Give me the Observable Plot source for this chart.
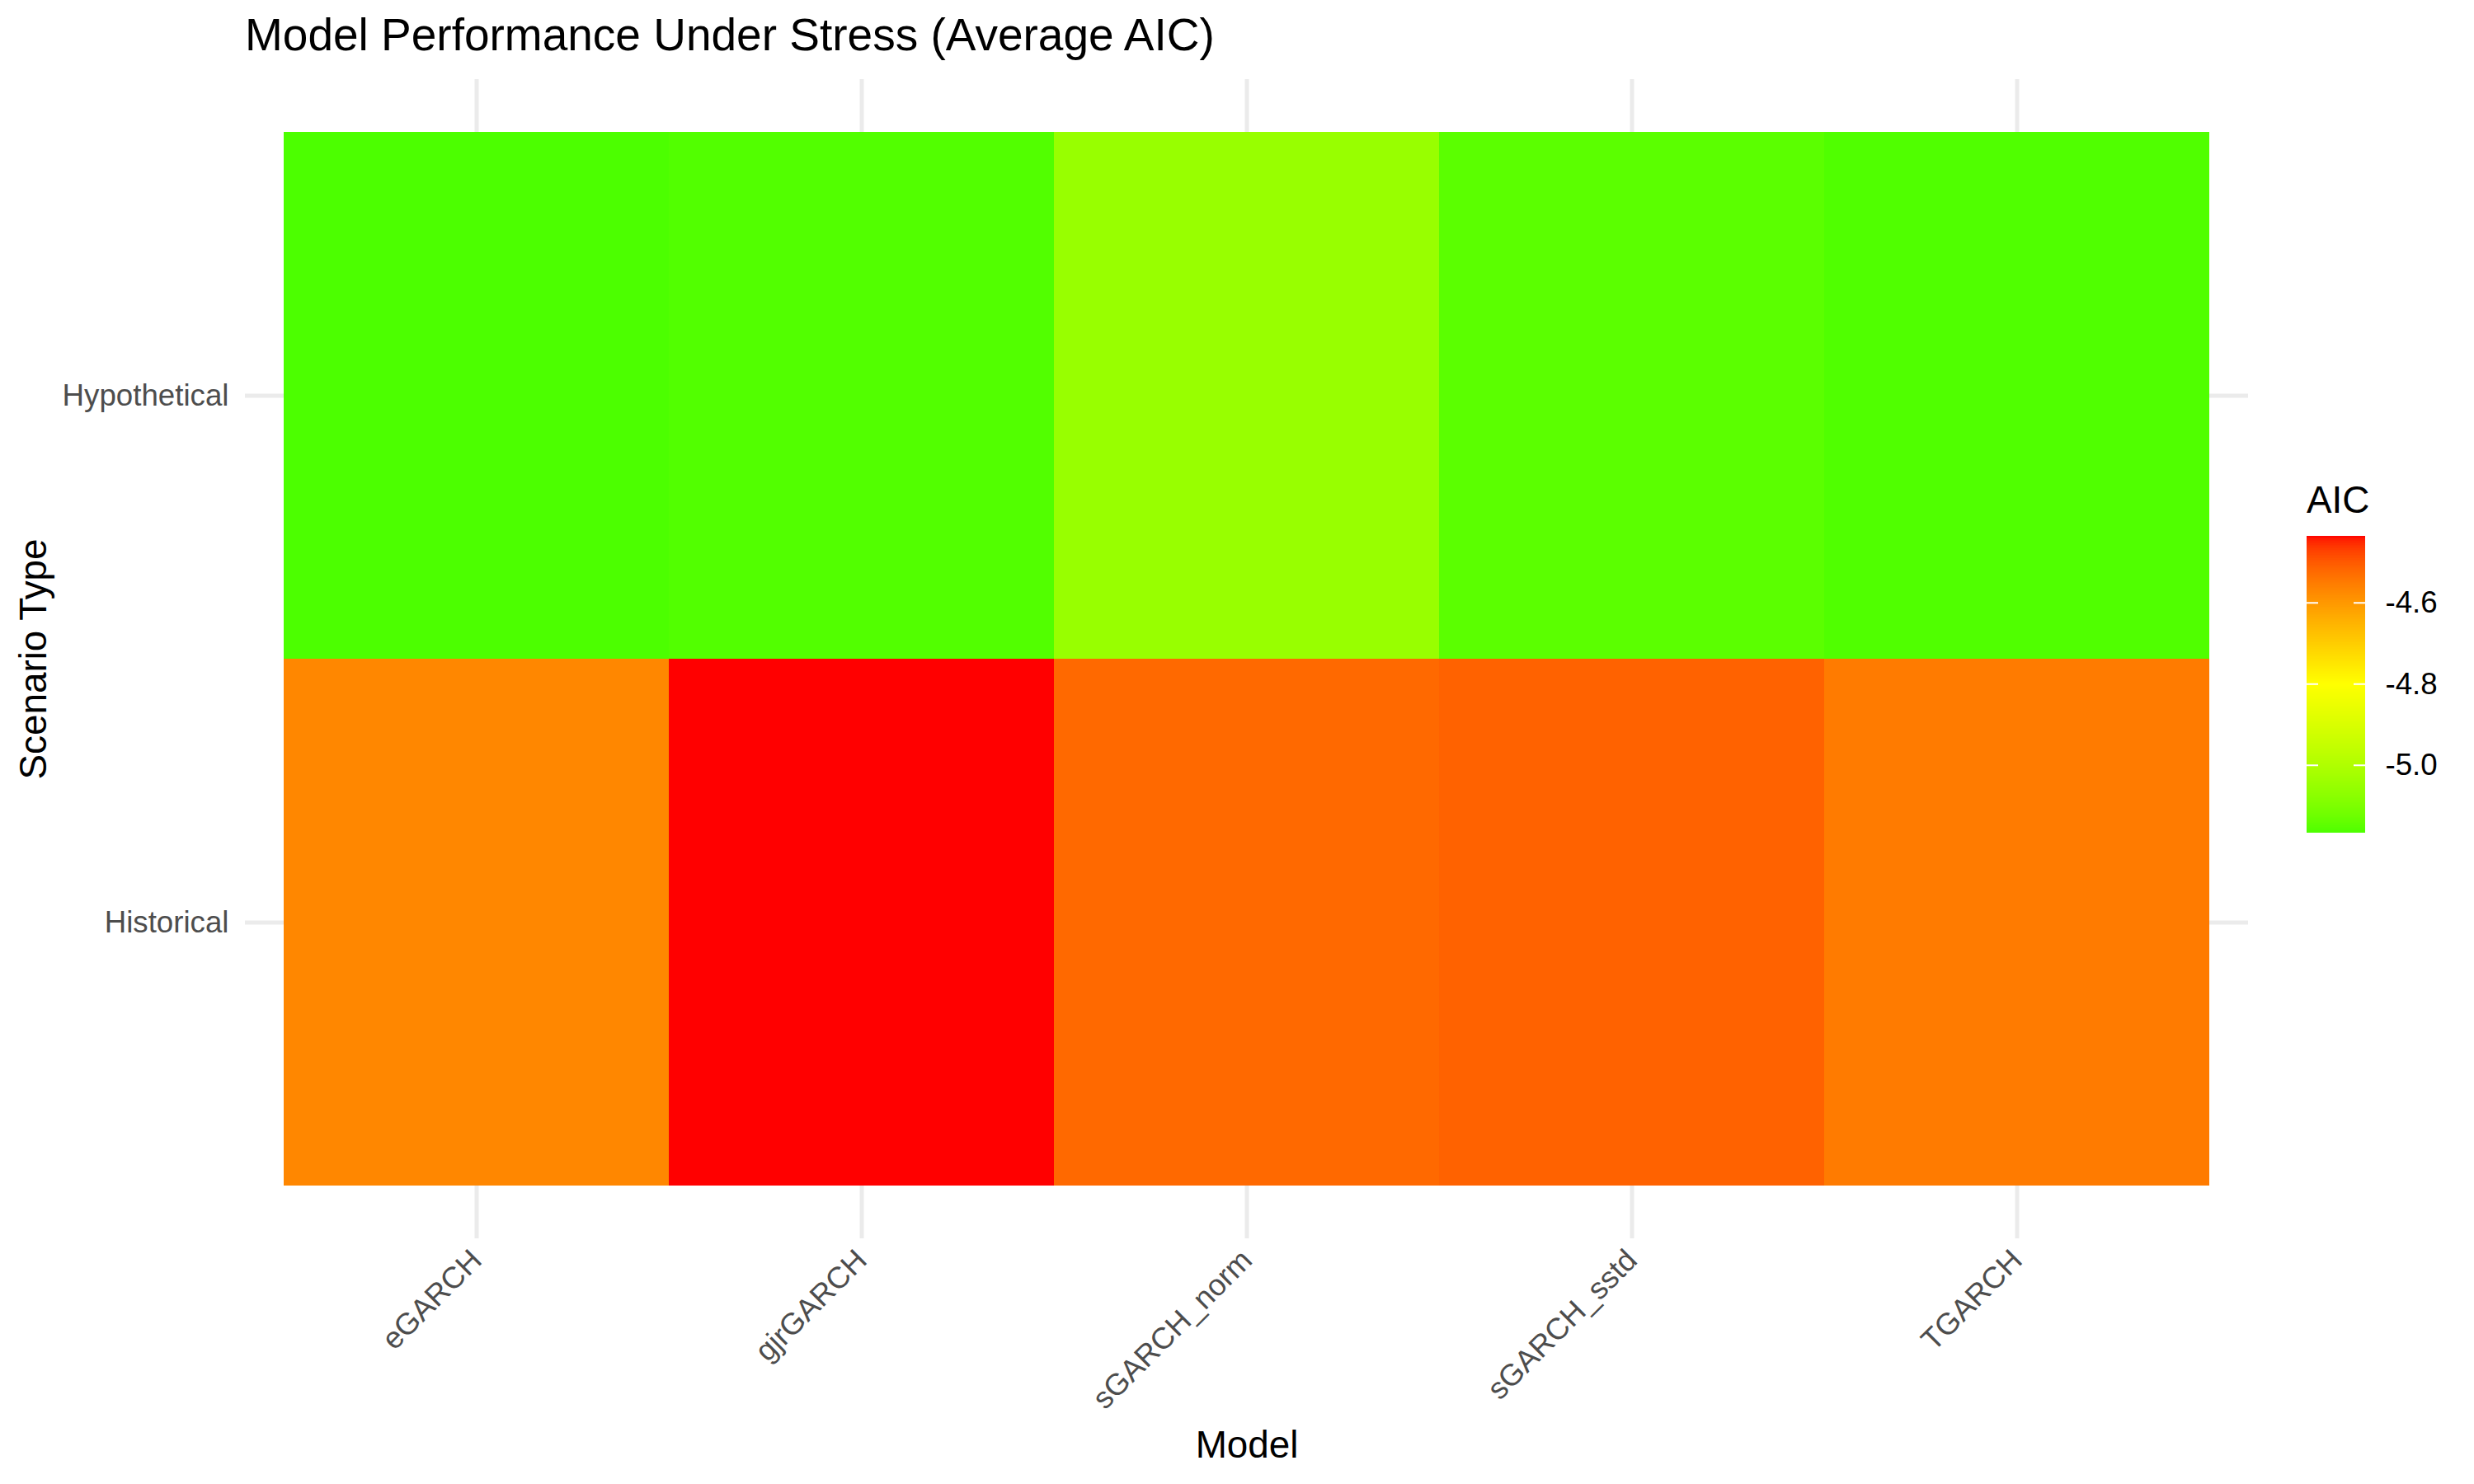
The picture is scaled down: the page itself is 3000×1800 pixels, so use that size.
<!DOCTYPE html>
<html>
<head>
<meta charset="utf-8">
<script src="https://cdn.jsdelivr.net/npm/d3@7"></script>
<script src="https://cdn.jsdelivr.net/npm/@observablehq/plot@0.6"></script>
<style>
  body { margin: 0; background: #ffffff; }
  #wrap { position: relative; width: 3000px; height: 1800px; background: #ffffff;
          font-family: "Liberation Sans", Arial, Helvetica, sans-serif; }
  #title { position: absolute; left: 297px; top: 15px; font-size: 55px; line-height: 1;
           white-space: nowrap; color: #000; }
  #chart { position: absolute; left: 0; top: 96px; }
  #legendTitle { position: absolute; left: 2797px; top: 584px; font-size: 45.8px; line-height: 1; color: #000; }
  #legend { position: absolute; left: 2740px; top: 560px; }
</style>
</head>
<body>
<div id="wrap">
  <div id="title">Model Performance Under Stress (Average AIC)</div>
  <div id="chart"></div>
  <div id="legendTitle">AIC</div>
  <div id="legend"></div>
</div>
<script>
// ---- data ----
const models = ["eGARCH", "gjrGARCH", "sGARCH_norm", "sGARCH_sstd", "TGARCH"];
const scenarios = ["Hypothetical", "Historical"];
const aicHypothetical = [-5.167, -5.160, -5.050, -5.150, -5.163];
const aicHistorical   = [-4.571, -4.436, -4.523, -4.512, -4.551];
const colorMidpoint = -4.8;
const legendTicks = [-5.0, -4.8, -4.6];

// ---- table built from the arrays ----
const data = [];
models.forEach((m, i) => {
  data.push({model: m, scenario: "Hypothetical", aic: aicHypothetical[i]});
  data.push({model: m, scenario: "Historical", aic: aicHistorical[i]});
});
const lo = d3.min(data, d => d.aic);
const hi = d3.max(data, d => d.aic);

const colorOpts = () => ({
  type: "linear",
  domain: [lo, colorMidpoint, hi],
  range: ["#4cff00", "#ffff00", "#ff0000"],
  interpolate: "lab"
});

const font = "'Liberation Sans', Arial, Helvetica, sans-serif";

const chart = Plot.plot({
  width: 3000,
  height: 1704,
  marginTop: 0,
  marginBottom: 298,
  marginLeft: 297,
  marginRight: 274,
  style: {fontFamily: font, background: "white", overflow: "visible"},
  x: {type: "band", domain: models, padding: 0, insetLeft: 47, insetRight: 47, label: null},
  y: {type: "band", domain: scenarios, padding: 0, insetTop: 64, insetBottom: 64, label: null},
  color: colorOpts(),
  marks: [
    Plot.gridX({stroke: "#ebebeb", strokeOpacity: 1, strokeWidth: 5}),
    Plot.gridY({stroke: "#ebebeb", strokeOpacity: 1, strokeWidth: 5}),
    Plot.cell(data, {x: "model", y: "scenario", fill: "aic", shapeRendering: "crispEdges"}),
    Plot.axisX({tickSize: 0, tickPadding: 20, tickRotate: -45, fontSize: 36.7, color: "#4d4d4d", label: null}),
    Plot.axisY({tickSize: 0, tickPadding: 20, fontSize: 36.7, color: "#4d4d4d", label: null}),
    Plot.axisX({ticks: [], label: "Model", labelAnchor: "center", labelArrow: "none", labelOffset: 265, fontSize: 45.8, color: "#000"}),
    Plot.axisY({ticks: [], label: "Scenario Type", labelAnchor: "center", labelArrow: "none", labelOffset: 274, fontSize: 45.8, color: "#000"})
  ]
});
document.getElementById("chart").appendChild(chart);

// ---- vertical colour bar legend ----
const nSlices = 240;
const slices = d3.range(nSlices).map(i => ({
  v0: lo + (hi - lo) * i / nSlices,
  v1: lo + (hi - lo) * (i + 1) / nSlices
}));
const legend = Plot.plot({
  width: 260,
  height: 480,
  marginLeft: 57,
  marginRight: 132,
  marginTop: 90,
  marginBottom: 30,
  style: {fontFamily: font, background: "transparent", overflow: "visible"},
  y: {domain: [lo, hi], axis: null},
  color: colorOpts(),
  marks: [
    Plot.rect(slices, {y1: "v0", y2: "v1", fill: d => (d.v0 + d.v1) / 2, shapeRendering: "crispEdges"}),
    Plot.ruleY(legendTicks, {stroke: "white", strokeWidth: 2, insetRight: 57}),
    Plot.ruleY(legendTicks, {stroke: "white", strokeWidth: 2, insetLeft: 57}),
    Plot.axisY(legendTicks, {anchor: "right", tickSize: 0, tickPadding: 24, fontSize: 36.7,
      tickFormat: d => d.toFixed(1), color: "#000", label: null})
  ]
});
document.getElementById("legend").appendChild(legend);
</script>
</body>
</html>
